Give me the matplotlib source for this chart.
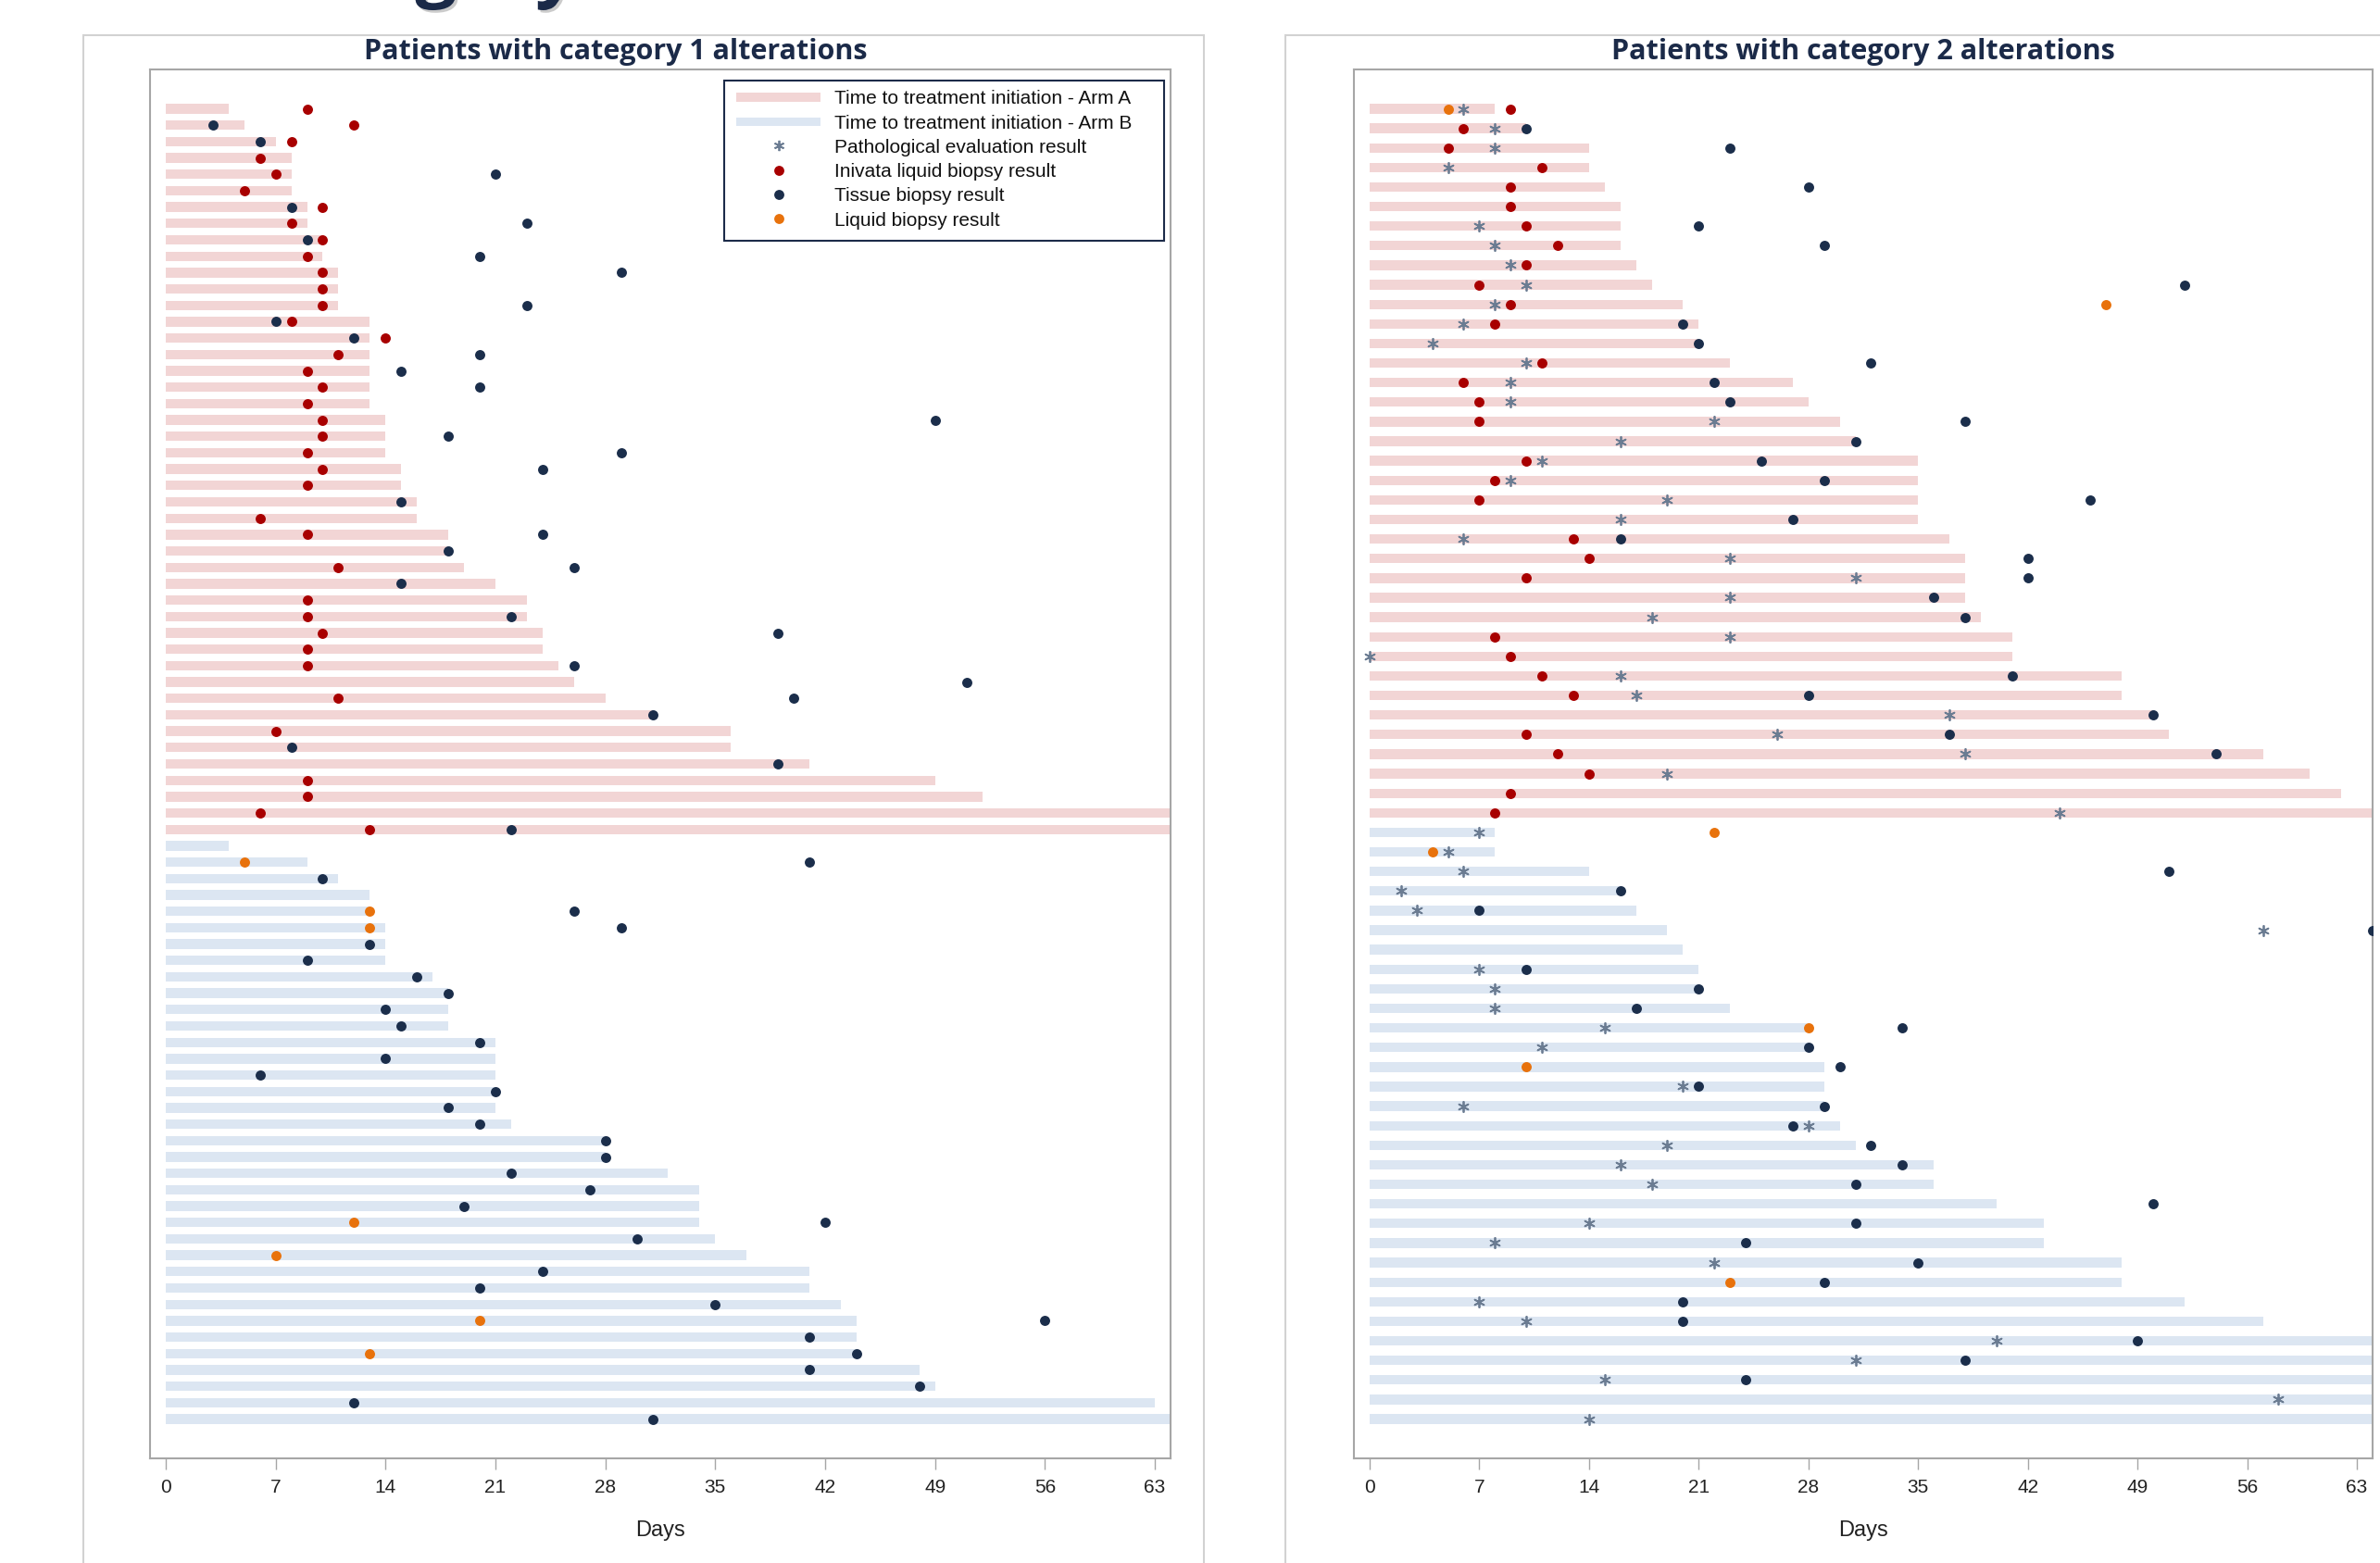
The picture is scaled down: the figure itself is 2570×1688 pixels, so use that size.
import numpy as np
import matplotlib
matplotlib.use("Agg")
import matplotlib.pyplot as plt
from matplotlib.patches import Rectangle
from matplotlib.lines import Line2D
import matplotlib.patheffects as pe

N = None

# ---------------- Data: patients with category 1 alterations ----------------
cat1_arm = ["A"] * 45 + ["B"] * 36
cat1_ttt = [4, 5, 7, 8, 8, 8, 9, 9, 10, 10, 11, 11, 11, 13, 13, 13, 13, 13, 13, 14,
            14, 14, 15, 15, 16, 16, 18, 18, 19, 21, 23, 23, 24, 24, 25, 26, 28, 31, 36, 36,
            41, 49, 52, 65, 65,
            4, 9, 11, 13, 13, 14, 14, 14, 17, 18, 18, 18, 21, 21, 21, 21, 21, 22, 28, 28,
            32, 34, 34, 34, 35, 37, 41, 41, 43, 44, 44, 44, 48, 49, 63, 65]
cat1_path = [N] * 81
cat1_inivata = [9, 12, 8, 6, 7, 5, 10, 8, 10, 9,
                10, 10, 10, 8, 14, 11, 9, 10, 9, 10,
                10, 9, 10, 9, N, 6, 9, N, 11, N,
                9, 9, 10, 9, 9, N, 11, N, 7, N,
                N, 9, 9, 6, 13] + [N] * 36
cat1_tissue = [N, 3, 6, N, 21, N, 8, 23, 9, 20,
               29, N, 23, 7, 12, 20, 15, 20, N, 49,
               18, 29, 24, N, 15, N, 24, 18, 26, 15,
               N, 22, 39, N, 26, 51, 40, 31, N, 8,
               39, N, N, N, 22,
               N, 41, 10, N, 26, 29, 13, 9, 16, 18,
               14, 15, 20, 14, 6, 21, 18, 20, 28, 28,
               22, 27, 19, 42, 30, N, 24, 20, 35, 56,
               41, 44, 41, 48, 12, 31]
cat1_liquid = [N] * 45 + [N, 5, N, N, 13, 13] + [N] * 17 + \
              [12, N, 7, N, N, N, 20, N, 13, N, N, N, N]

# ---------------- Data: patients with category 2 alterations ----------------
cat2_arm = ["A"] * 37 + ["B"] * 31
cat2_ttt = [8, 10, 14, 14, 15, 16, 16, 16, 17, 18, 20, 21, 21, 23, 27, 28, 30, 31, 35, 35,
            35, 35, 37, 38, 38, 38, 39, 41, 41, 48, 48, 50, 51, 57, 60, 62, 65,
            8, 8, 14, 16, 17, 19, 20, 21, 21, 23, 28, 28, 29, 29, 29, 30, 31, 36, 36, 40,
            43, 43, 48, 48, 52, 57, 65, 65, 65, 65, 65]
cat2_path = [6, 8, 8, 5, N, N, 7, 8, 9, 10,
             8, 6, 4, 10, 9, 9, 22, 16, 11, 9,
             19, 16, 6, 23, 31, 23, 18, 23, 0, 16,
             17, 37, 26, 38, 19, N, 44,
             7, 5, 6, 2, 3, 57, N, 7, 8, 8,
             15, 11, N, 20, 6, 28, 19, 16, 18, N,
             14, 8, 22, N, 7, 10, 40, 31, 15, 58,
             14]
cat2_inivata = [9, 6, 5, 11, 9, 9, 10, 12, 10, 7,
                9, 8, N, 11, 6, 7, 7, N, 10, 8,
                7, N, 13, 14, 10, N, N, 8, 9, 11,
                13, N, 10, 12, 14, 9, 8] + [N] * 31
cat2_tissue = [N, 10, 23, N, 28, N, 21, 29, N, 52,
               N, 20, 21, 32, 22, 23, 38, 31, 25, 29,
               46, 27, 16, 42, 42, 36, 38, N, N, 41,
               28, 50, 37, 54, N, N, N,
               N, N, 51, 16, 7, 64, N, 10, 21, 17,
               34, 28, 30, 21, 29, 27, 32, 34, 31, 50,
               31, 24, 35, 29, 20, 20, 49, 38, 24, N,
               N]
cat2_liquid = [5] + [N] * 9 + [47] + [N] * 26 + \
              [22, 4] + [N] * 8 + [28, N, 10] + [N] * 10 + [23] + [N] * 7

x_ticks = [0, 7, 14, 21, 28, 35, 42, 49, 56, 63]
legend_labels = ["Time to treatment initiation - Arm A",
                 "Time to treatment initiation - Arm B",
                 "Pathological evaluation result",
                 "Inivata liquid biopsy result",
                 "Tissue biopsy result",
                 "Liquid biopsy result"]
panel_titles = ["Patients with category 1 alterations",
                "Patients with category 2 alterations"]
heading = "Category 1 and 2 alterations"

# ---------------- Styles ----------------
C_ARM_A = "#F2D5D5"
C_ARM_B = "#DCE6F2"
C_PATH = "#6B7C92"
C_INIV = "#A80000"
C_TISS = "#1B2E4B"
C_LIQ = "#E8720C"
C_NAVY = "#1B2A48"
C_SPINE = "#A6A6A6"

plt.rcParams["font.family"] = ["Liberation Sans", "DejaVu Sans"]

W, H = 2570, 1688
fig = plt.figure(figsize=(W / 100, H / 100), dpi=100)
fig.patch.set_facecolor("white")


def fx(x):
    return x / W


def fy(y):
    return 1 - y / H


AX_TOP, AX_BOT = 75, 1575
PAD_PX = 42.5
BAR_PX = 10.3
DOT_S = 62


def draw_panel(rect, arms, ttt, path, iniv, tiss, liq):
    ax = fig.add_axes(rect)
    n = len(ttt)
    h_px = AX_BOT - AX_TOP
    spacing = (h_px - 2 * PAD_PX) / (n - 1)
    pad = PAD_PX / spacing
    rows = np.arange(n)
    colors = [C_ARM_A if a == "A" else C_ARM_B for a in arms]
    ax.barh(rows, ttt, left=0, height=BAR_PX / spacing, color=colors,
            linewidth=0, zorder=1)

    def pts(vals):
        xs = [v for v in vals if v is not None]
        ys = [i for i, v in enumerate(vals) if v is not None]
        return xs, ys

    xs, ys = pts(path)
    if xs:
        ax.scatter(xs, ys, marker=(6, 2, 0), s=66, color=C_PATH,
                   linewidths=1.3, zorder=3)
    for vals, col in ((iniv, C_INIV), (tiss, C_TISS), (liq, C_LIQ)):
        xs, ys = pts(vals)
        if xs:
            ax.scatter(xs, ys, marker="o", s=DOT_S, color=col,
                       linewidths=0, zorder=4)

    ax.set_xlim(-1, 64)
    ax.set_ylim(n - 1 + pad, -pad)
    ax.set_yticks([])
    ax.set_xticks(x_ticks)
    ax.tick_params(axis="x", length=8.6, width=1.0, color=C_SPINE,
                   labelsize=15, pad=7.5, labelcolor="#222222")
    for sp in ax.spines.values():
        sp.set_color(C_SPINE)
        sp.set_linewidth(1.5)
    ax.set_xlabel("Days", fontsize=17, color="#222222")
    ax.xaxis.set_label_coords(0.5, -(1652.5 - AX_BOT) / h_px)
    ax.xaxis.label.set_verticalalignment("center")
    return ax


ax1 = draw_panel([fx(162), fy(AX_BOT), 1102 / W, (AX_BOT - AX_TOP) / H],
                 cat1_arm, cat1_ttt, cat1_path, cat1_inivata, cat1_tissue, cat1_liquid)
ax2 = draw_panel([fx(1462), fy(AX_BOT), 1100 / W, (AX_BOT - AX_TOP) / H],
                 cat2_arm, cat2_ttt, cat2_path, cat2_inivata, cat2_tissue, cat2_liquid)

# panel boxes
for x0, x1 in ((90, 1300), (1388, 2700)):
    fig.add_artist(Rectangle((fx(x0), fy(1750)), (x1 - x0) / W, (1750 - 38) / H,
                             transform=fig.transFigure, facecolor="none",
                             edgecolor="#D2D2D2", linewidth=1.5, zorder=0.5))

# panel titles
for cx, t in ((665, panel_titles[0]), (2012, panel_titles[1])):
    fig.text(fx(cx), fy(64), t, ha="center", va="baseline", fontsize=22,
             fontweight="bold", family=["Open Sans", "DejaVu Sans"], color=C_NAVY)

# big slide heading, cut off by the top edge as in the reference
fig.text(fx(269), fy(-8), heading, ha="left", va="baseline", fontsize=57,
         fontweight="bold", family=["Open Sans", "DejaVu Sans"], color=C_NAVY,
         path_effects=[pe.withSimplePatchShadow(offset=(2, -2), shadow_rgbFace="#999999",
                                                alpha=0.5)])

# legend (inside category 1 panel, upper right)
LX0, LX1, LY0, LY1 = 782.5, 1257, 86.7, 260
fig.add_artist(Rectangle((fx(LX0), fy(LY1)), (LX1 - LX0) / W, (LY1 - LY0) / H,
                         transform=fig.transFigure, facecolor="white",
                         edgecolor="#1C2B49", linewidth=1.5, zorder=5))
entry_y = [105 + 26.2 * k for k in range(6)]
for k, (lab, yy) in enumerate(zip(legend_labels, entry_y)):
    if k < 2:
        fig.add_artist(Rectangle((fx(795), fy(yy + 4.65)), 91 / W, 9.3 / H,
                                 transform=fig.transFigure,
                                 facecolor=[C_ARM_A, C_ARM_B][k], linewidth=0,
                                 zorder=6))
    else:
        if k == 2:
            m = Line2D([fx(841)], [fy(yy)], marker=(6, 2, 0), markersize=8.1,
                       color=C_PATH, markeredgewidth=1.3, linestyle="none",
                       transform=fig.transFigure, zorder=6)
        else:
            m = Line2D([fx(841)], [fy(yy)], marker="o", markersize=7.8,
                       markerfacecolor=[C_INIV, C_TISS, C_LIQ][k - 3],
                       markeredgewidth=0, linestyle="none",
                       transform=fig.transFigure, zorder=6)
        fig.add_artist(m)
    fig.text(fx(901), fy(yy), lab, ha="left", va="center_baseline", fontsize=15,
             color="#111111", zorder=7)

fig.savefig("out.png", dpi=100, facecolor="white")
